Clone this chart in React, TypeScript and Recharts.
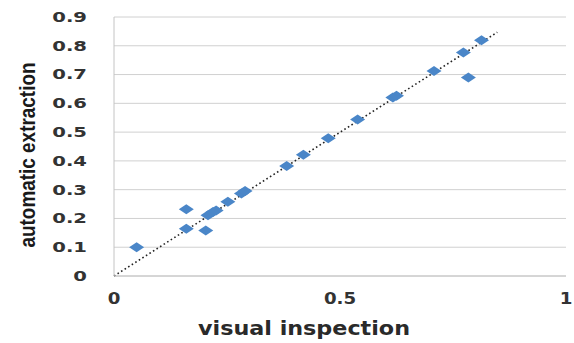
import React from 'react';
import { ScatterChart, Scatter, XAxis, YAxis, CartesianGrid, ReferenceLine, Label } from 'recharts';

const visualInspection = [0.05, 0.16, 0.16, 0.203, 0.208, 0.219, 0.226, 0.252, 0.282, 0.290, 0.382, 0.419, 0.474, 0.539, 0.617, 0.625, 0.708, 0.773, 0.784, 0.813];
const automaticExtraction = [0.10, 0.232, 0.164, 0.158, 0.211, 0.222, 0.228, 0.258, 0.287, 0.295, 0.382, 0.421, 0.479, 0.544, 0.62, 0.626, 0.712, 0.777, 0.690, 0.819];
const xTicks = [0, 0.5, 1];
const yTicks = [0, 0.1, 0.2, 0.3, 0.4, 0.5, 0.6, 0.7, 0.8, 0.9];
const trendStart = { x: 0, y: 0 };
const trendEnd = { x: 0.848, y: 0.847 };

const points = visualInspection.map((x, i) => ({ x, y: automaticExtraction[i] }));

const Diamond = (props: any) => {
  const { cx, cy } = props;
  const w = 7.5, h = 5;
  return (
    <polygon
      points={`${cx - w},${cy} ${cx},${cy - h} ${cx + w},${cy} ${cx},${cy + h}`}
      fill="#4a86c8"
    />
  );
};

const fontStyle = { fontFamily: 'DejaVu Sans', fontWeight: 700, fontSize: 14, fill: '#333' };

const YTick = (props: any) => {
  const { x, y, payload } = props;
  const v = payload.value as number;
  const label = v === 0 ? '0' : v.toFixed(1);
  return (
    <text
      x={x}
      y={y}
      textAnchor="end"
      dominantBaseline="central"
      transform={`translate(${x} ${y}) scale(1.4 1) translate(${-x} ${-y})`}
      style={fontStyle}
    >
      {label}
    </text>
  );
};

const XTick = (props: any) => {
  const { x, y, payload } = props;
  const label = String(payload.value);
  return (
    <text
      x={x}
      y={y}
      textAnchor="middle"
      dominantBaseline="central"
      transform={`translate(${x} ${y}) scale(1.3 1.1) translate(${-x} ${-y})`}
      style={fontStyle}
    >
      {label}
    </text>
  );
};

export default function App() {
  return (
    <div style={{ position: 'absolute', left: 0, top: 0, width: 574, height: 343, background: '#fff' }}>
      <ScatterChart width={574} height={343} margin={{ top: 17, right: 8, bottom: 0, left: 0 }}>
        <CartesianGrid horizontal vertical={false} stroke="#d0d0d0" strokeWidth={1} />
        <XAxis
          type="number"
          dataKey="x"
          domain={[0, 1]}
          ticks={xTicks}
          height={67}
          tickLine={false}
          tickSize={0}
          tickMargin={23}
          axisLine={{ stroke: '#c4c4c4' }}
          tick={<XTick />}
        >
          <Label
            content={(p: any) => {
              const vb = p.viewBox || {};
              const cx = 304;
              const y = (vb.y ?? 276) + 59;
              return (
                <text
                  x={cx}
                  y={y}
                  textAnchor="middle"
                  textLength={212}
                  lengthAdjust="spacingAndGlyphs"
                  style={{ fontFamily: 'DejaVu Sans', fontWeight: 700, fontSize: 19, fill: '#2a2a2a' }}
                >
                  visual inspection
                </text>
              );
            }}
          />
        </XAxis>
        <YAxis
          type="number"
          dataKey="y"
          domain={[0, 0.9]}
          ticks={yTicks}
          width={114}
          tickLine={false}
          tickSize={0}
          tickMargin={27}
          axisLine={{ stroke: '#c4c4c4' }}
          tick={<YTick />}
        >
          <Label
            content={() => {
              const x = 27, y = 155;
              return (
                <text
                  x={x}
                  y={y}
                  transform={`rotate(-90 ${x} ${y})`}
                  textAnchor="middle"
                  dominantBaseline="central"
                  textLength={185}
                  lengthAdjust="spacingAndGlyphs"
                  style={{ fontFamily: "'Liberation Sans Narrow', 'Liberation Sans', Arial", fontWeight: 700, fontSize: 22, fill: '#1a1a1a' }}
                >
                  automatic extraction
                </text>
              );
            }}
          />
        </YAxis>
        <Scatter data={points} shape={<Diamond />} isAnimationActive={false} />
        <ReferenceLine
          segment={[trendStart, trendEnd]}
          stroke="#222"
          strokeWidth={1.6}
          strokeDasharray="1.6 2.6"
          ifOverflow="visible"
        />
      </ScatterChart>
    </div>
  );
}
